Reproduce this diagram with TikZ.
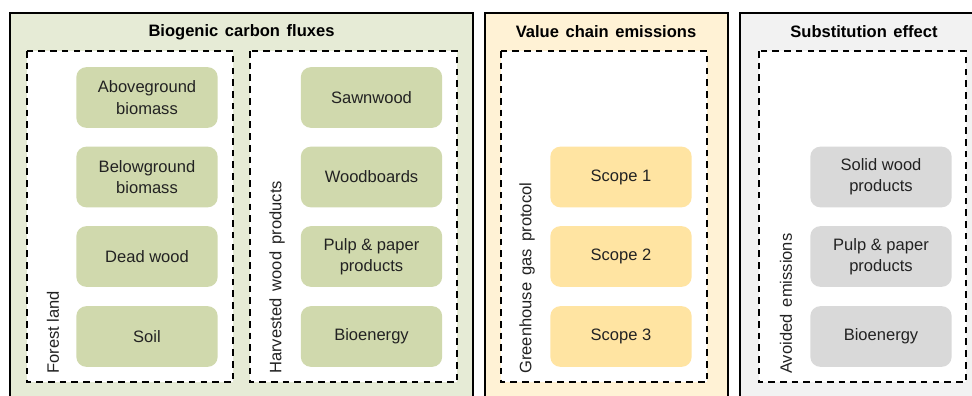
\documentclass[tikz,border=0pt]{standalone}
\usepackage{fontspec}
\setmainfont{Liberation Sans}
\definecolor{pgreen}{HTML}{E6EBD6}
\definecolor{ngreen}{HTML}{D0D9AD}
\definecolor{pyellow}{HTML}{FFF2D5}
\definecolor{nyellow}{HTML}{FFE4A2}
\definecolor{pgray}{HTML}{F2F2F2}
\definecolor{ngray}{HTML}{D9D9D9}
\definecolor{txt}{HTML}{222222}
\begin{document}
\begin{tikzpicture}[x=0.75pt,y=-0.75pt,
  panel/.style={draw=black,line width=1.5pt},
  dbox/.style={draw=black,fill=white,line width=1.4pt,dash pattern=on 5pt off 3.8pt},
  item/.style={rounded corners=7.5pt,minimum width=106pt,minimum height=45.5pt,align=center,
    text=txt,font=\fontsize{12.4}{16}\selectfont,inner sep=0pt},
  ttl/.style={font=\bfseries\fontsize{12.4}{15}\selectfont,text=black},
  vlab/.style={rotate=90,anchor=west,font=\fontsize{12.4}{15}\selectfont,text=txt,inner sep=0pt}]
\useasboundingbox (0,0) rectangle (972,396);
\clip (0,0) rectangle (972,396);
% panels
\path[panel,fill=pgreen] (10,13) rectangle (473,410);
\path[panel,fill=pyellow] (485,13) rectangle (728,410);
\path[panel,fill=pgray] (740,13) rectangle (990,410);
\node[ttl] (t1) at (241.5,32) {Biogenic\hspace{1.5pt} carbon\hspace{1.5pt} fluxes};
\node[ttl] (t2) at (606,32) {Value\hspace{1.5pt} chain\hspace{1.5pt} emissions};
\node[ttl] (t3) at (864,32) {Substitution\hspace{1.5pt} effect};
% dashed boxes
\path[dbox] (27,51) rectangle (233,382);
\path[dbox] (250,51) rectangle (457,382);
\path[dbox] (501,51) rectangle (707,382);
\path[dbox] (759,51) rectangle (966,382);
% vertical labels
\node[vlab] (l1) at (53,374) {Forest land};
\node[vlab] (l2) at (277,374) {Harvested\hspace{2pt} wood\hspace{2pt} products};
\node[vlab] (l3) at (527,374) {Greenhouse\hspace{2pt} gas\hspace{2pt} protocol};
\node[vlab] (l4) at (786,374) {Avoided\hspace{2pt} emissions};
% green items
\node[item,fill=ngreen] (a1) at (147,97.5) {Aboveground\\biomass};
\node[item,fill=ngreen] (a2) at (147,177) {Belowground\\biomass};
\node[item,fill=ngreen] (a3) at (147,256.5) {Dead wood};
\node[item,fill=ngreen] (a4) at (147,336.5) {Soil};
\node[item,fill=ngreen] (b1) at (371.5,97.5) {Sawnwood};
\node[item,fill=ngreen] (b2) at (371.5,177) {Woodboards};
\node[item,fill=ngreen] (b3) at (371.5,256.5) {Pulp \& paper\\products};
\node[item,fill=ngreen] (b4) at (371.5,336.5) {Bioenergy};
% yellow items
\node[item,fill=nyellow] (c1) at (621,177) {Scope 1};
\node[item,fill=nyellow] (c2) at (621,256.5) {Scope 2};
\node[item,fill=nyellow] (c3) at (621,336.5) {Scope 3};
% gray items
\node[item,fill=ngray] (d1) at (881,177) {Solid wood\\products};
\node[item,fill=ngray] (d2) at (881,256.5) {Pulp \& paper\\products};
\node[item,fill=ngray] (d3) at (881,336.5) {Bioenergy};
\end{tikzpicture}
\end{document}
